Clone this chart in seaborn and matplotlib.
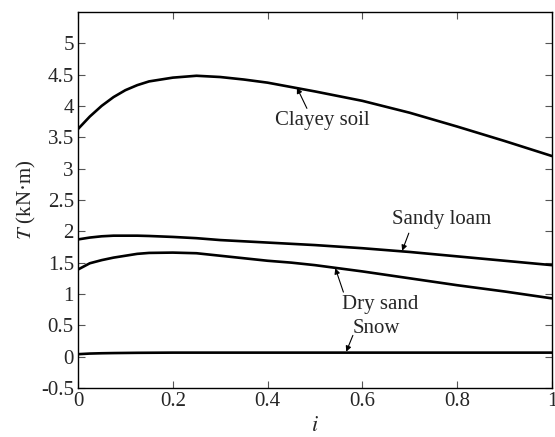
import numpy as np
import pandas as pd
import matplotlib
matplotlib.use("Agg")
import matplotlib.pyplot as plt
import seaborn as sns

# ---- data ----
i_vals = [0.0, 0.025, 0.05, 0.075, 0.1, 0.125, 0.15, 0.2, 0.25, 0.3, 0.35, 0.4, 0.45, 0.5,
          0.6, 0.7, 0.8, 0.9, 1.0]
clayey = [3.63, 3.83, 4.00, 4.14, 4.25, 4.33, 4.39, 4.45, 4.48, 4.46, 4.42, 4.37, 4.30, 4.23,
          4.08, 3.89, 3.67, 3.44, 3.20]
sandy = [1.87, 1.90, 1.92, 1.93, 1.93, 1.93, 1.925, 1.91, 1.89, 1.86, 1.84, 1.82, 1.80, 1.78,
         1.73, 1.67, 1.60, 1.53, 1.46]
dry = [1.39, 1.49, 1.54, 1.58, 1.61, 1.64, 1.655, 1.66, 1.65, 1.61, 1.57, 1.53, 1.50, 1.46,
       1.36, 1.25, 1.14, 1.04, 0.93]
snow = [0.04, 0.05, 0.055, 0.058, 0.06, 0.062, 0.063, 0.065, 0.065, 0.065, 0.065, 0.065, 0.065,
        0.065, 0.065, 0.065, 0.065, 0.065, 0.065]
series_names = ["Clayey soil", "Sandy loam", "Dry sand", "Snow"]
x_ticks = [0, 0.2, 0.4, 0.6, 0.8, 1]
x_ticklabels = ["0", "0.2", "0.4", "0.6", "0.8", "1"]
y_ticks = [-0.5, 0, 0.5, 1, 1.5, 2, 2.5, 3, 3.5, 4, 4.5, 5]
y_ticklabels = ["-0.5", "0", "0.5", "1", "1.5", "2", "2.5", "3", "3.5", "4", "4.5", "5"]

# annotation label positions and arrow (tail, head), in data coords
label_pos = {
    "Clayey soil": (0.515, 3.77),
    "Sandy loam": (0.767, 2.18),
    "Dry sand": (0.638, 0.84),
    "Snow": (0.629, 0.45),
}
arrows = {
    "Clayey soil": ((0.483, 3.96), (0.462, 4.29)),
    "Sandy loam": ((0.698, 1.97), (0.684, 1.69)),
    "Dry sand": ((0.560, 1.03), (0.543, 1.41)),
    "Snow": ((0.580, 0.34), (0.566, 0.08)),
}

df = pd.concat([
    pd.DataFrame({"i": i_vals, "T": vals, "series": name})
    for name, vals in zip(series_names, [clayey, sandy, dry, snow])
])

sns.set_style("ticks")
plt.rcParams["font.family"] = ["Liberation Serif", "DejaVu Serif"]
plt.rcParams["mathtext.fontset"] = "stix"
plt.rcParams["xtick.direction"] = "in"
plt.rcParams["ytick.direction"] = "in"

fig = plt.figure(figsize=(5.55, 4.37), dpi=100)
ax = fig.add_axes([0.1405, 0.112, 0.854, 0.861])

sns.lineplot(data=df, x="i", y="T", hue="series", palette=["black"] * 4,
             linewidth=1.9, legend=False, ax=ax, estimator=None, sort=True)

ax.set_xlim(0, 1)
ax.set_ylim(-0.5, 5.5)
ax.set_xticks(x_ticks)
ax.set_xticklabels(x_ticklabels)
ax.set_yticks(y_ticks)
ax.set_yticklabels(y_ticklabels)
ax.tick_params(axis="both", labelsize=15, length=5, width=0.8, color="#555555",
               top=True, right=True, pad=3)
for s in ax.spines.values():
    s.set_linewidth(1.0)
    s.set_color("black")

ax.set_xlabel(r"$i$", fontsize=16, labelpad=4)
ax.set_ylabel(r"$T$ (kN·m)", fontsize=15, labelpad=2)

for name, (tx, ty) in label_pos.items():
    ax.text(tx, ty, name, fontsize=15, ha="center", va="center")
for name, (tail, head) in arrows.items():
    ax.annotate("", xy=head, xytext=tail,
                arrowprops=dict(arrowstyle="-|>", color="black", lw=0.8,
                                mutation_scale=8, shrinkA=0, shrinkB=0))

fig.savefig("out.png", dpi=100)
